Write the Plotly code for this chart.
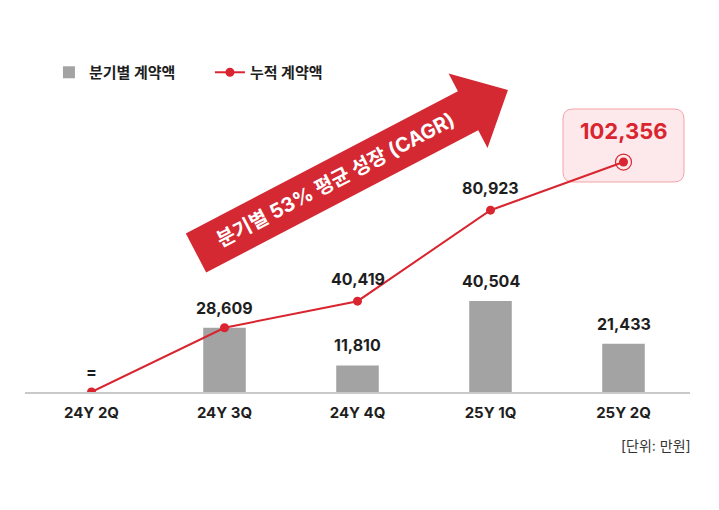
import math
import plotly.graph_objs as go

# data
quarters = ["24Y 2Q", "24Y 3Q", "24Y 4Q", "25Y 1Q", "25Y 2Q"]
quarterly = [0, 28609, 11810, 40504, 21433]
cumulative = [0, 28609, 40419, 80923, 102356]
bar_labels = ["=", "28,609", "11,810", "40,504", "21,433"]
line_labels = ["", "", "40,419", "80,923", ""]
growth_text = "분기별 53% 평균 성장 (CAGR)"
unit_text = "[단위: 만원]"

colors = {
    "bar": "#a3a3a3",
    "line": "#d9252f",
    "arrow": "#d42832",
    "text": "#1e1e1e",
    "axis": "#c9c9c9",
    "box_fill": "#fde9eb",
    "box_line": "#f3a3aa",
}
FONT = "Inter, 'Noto Sans CJK KR', sans-serif"

W, H = 719, 510
OFF = 8  # page body margin
# plot area in page pixels
PX0, PX1, PY0, PY1 = 25, 690, 55, 392
L, R, T, B = PX0 - OFF, W - (PX1 - OFF), PY0 - OFF, H - (PY1 - OFF)
YMAX = 150000


def to_paper(px, py):
    # page pixel position -> paper coords
    return (px - PX0) / (PX1 - PX0), (PY1 - py) / (PY1 - PY0)


def path_from_px(pts, close=True):
    s = ""
    for i, (px, py) in enumerate(pts):
        x, y = to_paper(px, py)
        s += ("M" if i == 0 else "L") + f"{x:.5f},{y:.5f} "
    return s + ("Z" if close else "")


fig = go.Figure()

fig.add_trace(go.Bar(
    x=quarters, y=quarterly, name="분기별 계약액",
    marker=dict(color=colors["bar"], line=dict(width=0)),
    width=0.32, hoverinfo="skip",
))
fig.add_trace(go.Scatter(
    x=quarters, y=cumulative, name="누적 계약액", mode="lines+markers",
    line=dict(color=colors["line"], width=2),
    marker=dict(color=colors["line"], size=9),
    hoverinfo="skip",
))
# ring round the last point
fig.add_trace(go.Scatter(
    x=quarters[-1:], y=cumulative[-1:], mode="markers", showlegend=False,
    marker=dict(symbol="circle-open", size=16, color=colors["line"], line=dict(width=1.2)),
    hoverinfo="skip",
))

# value labels
for q, v, t in zip(quarters, quarterly, bar_labels):
    fig.add_annotation(x=q, y=v, text=t, showarrow=False, yshift=20,
                       font=dict(size=16, color=colors["text"], family=FONT, weight="bold"))
for q, v, t in zip(quarters, cumulative, line_labels):
    if t:
        fig.add_annotation(x=q, y=v, text=t, showarrow=False, yshift=22,
                           font=dict(size=16, color=colors["text"], family=FONT, weight="bold"))

# highlight box for the last cumulative value
bx0, by0, bx1, by1, rr = 563, 109, 684, 182, 10
fx = lambda px, py: "{:.5f},{:.5f}".format(*to_paper(px, py))
box_path = (f"M{fx(bx0 + rr, by0)} L{fx(bx1 - rr, by0)} Q{fx(bx1, by0)} {fx(bx1, by0 + rr)} "
            f"L{fx(bx1, by1 - rr)} Q{fx(bx1, by1)} {fx(bx1 - rr, by1)} "
            f"L{fx(bx0 + rr, by1)} Q{fx(bx0, by1)} {fx(bx0, by1 - rr)} "
            f"L{fx(bx0, by0 + rr)} Q{fx(bx0, by0)} {fx(bx0 + rr, by0)} Z")
fig.add_shape(type="path", path=box_path, xref="paper", yref="paper",
              fillcolor=colors["box_fill"], line=dict(color=colors["box_line"], width=1),
              layer="below")
fig.add_annotation(x=quarters[-1], y=cumulative[-1], text=f"{cumulative[-1]:,}",
                   showarrow=False, yshift=31,
                   font=dict(size=22, color=colors["line"], family=FONT, weight="bold"))

# big growth arrow
cx, cy = 196, 253
ang = math.radians(27.6)
ux, uy = math.cos(ang), -math.sin(ang)
nx, ny = math.sin(ang), math.cos(ang)
length, head_len, body_hw, head_hw = 352, 45, 22, 42
def pt(a, b):
    return (cx + ux * a + nx * b, cy + uy * a + ny * b)
arrow = [pt(0, -body_hw), pt(length - head_len, -body_hw), pt(length - head_len, -head_hw),
         pt(length, 0), pt(length - head_len, head_hw), pt(length - head_len, body_hw),
         pt(0, body_hw)]
fig.add_shape(type="path", path=path_from_px(arrow), xref="paper", yref="paper",
              fillcolor=colors["arrow"], line=dict(width=0))
tx, ty = to_paper(*pt(157, 0))
fig.add_annotation(x=tx, y=ty, xref="paper", yref="paper", text=growth_text,
                   showarrow=False, textangle=-27.6,
                   font=dict(size=20, color="white", family=FONT, weight="bold"))

# unit note
ux_, uy_ = to_paper(693, 445)
fig.add_annotation(x=ux_, y=uy_, xref="paper", yref="paper", xanchor="right", yanchor="middle",
                   text=unit_text, showarrow=False,
                   font=dict(size=14, color="#333333", family=FONT))

fig.update_layout(
    width=W, height=H,
    margin=dict(l=L, r=R, t=T, b=B),
    paper_bgcolor="white", plot_bgcolor="white",
    font=dict(family=FONT, color=colors["text"]),
    showlegend=True,
    legend=dict(orientation="h", x=0.036, y=0.948, xanchor="left", yanchor="middle",
                font=dict(size=15, family=FONT, weight="bold", color=colors["text"]),
                entrywidth=116, itemwidth=30, bgcolor="rgba(0,0,0,0)"),
    bargap=0.68,
)
fig.update_xaxes(type="category", range=[-0.5, 4.5], showgrid=False, ticks="",
                 showline=True, linecolor=colors["axis"], linewidth=1.5,
                 tickfont=dict(size=15, family=FONT, weight="bold", color=colors["text"]),
                 ticklabelstandoff=6)
fig.update_yaxes(range=[0, YMAX], visible=False, showgrid=False, zeroline=False)

fig.write_html("out.html")
